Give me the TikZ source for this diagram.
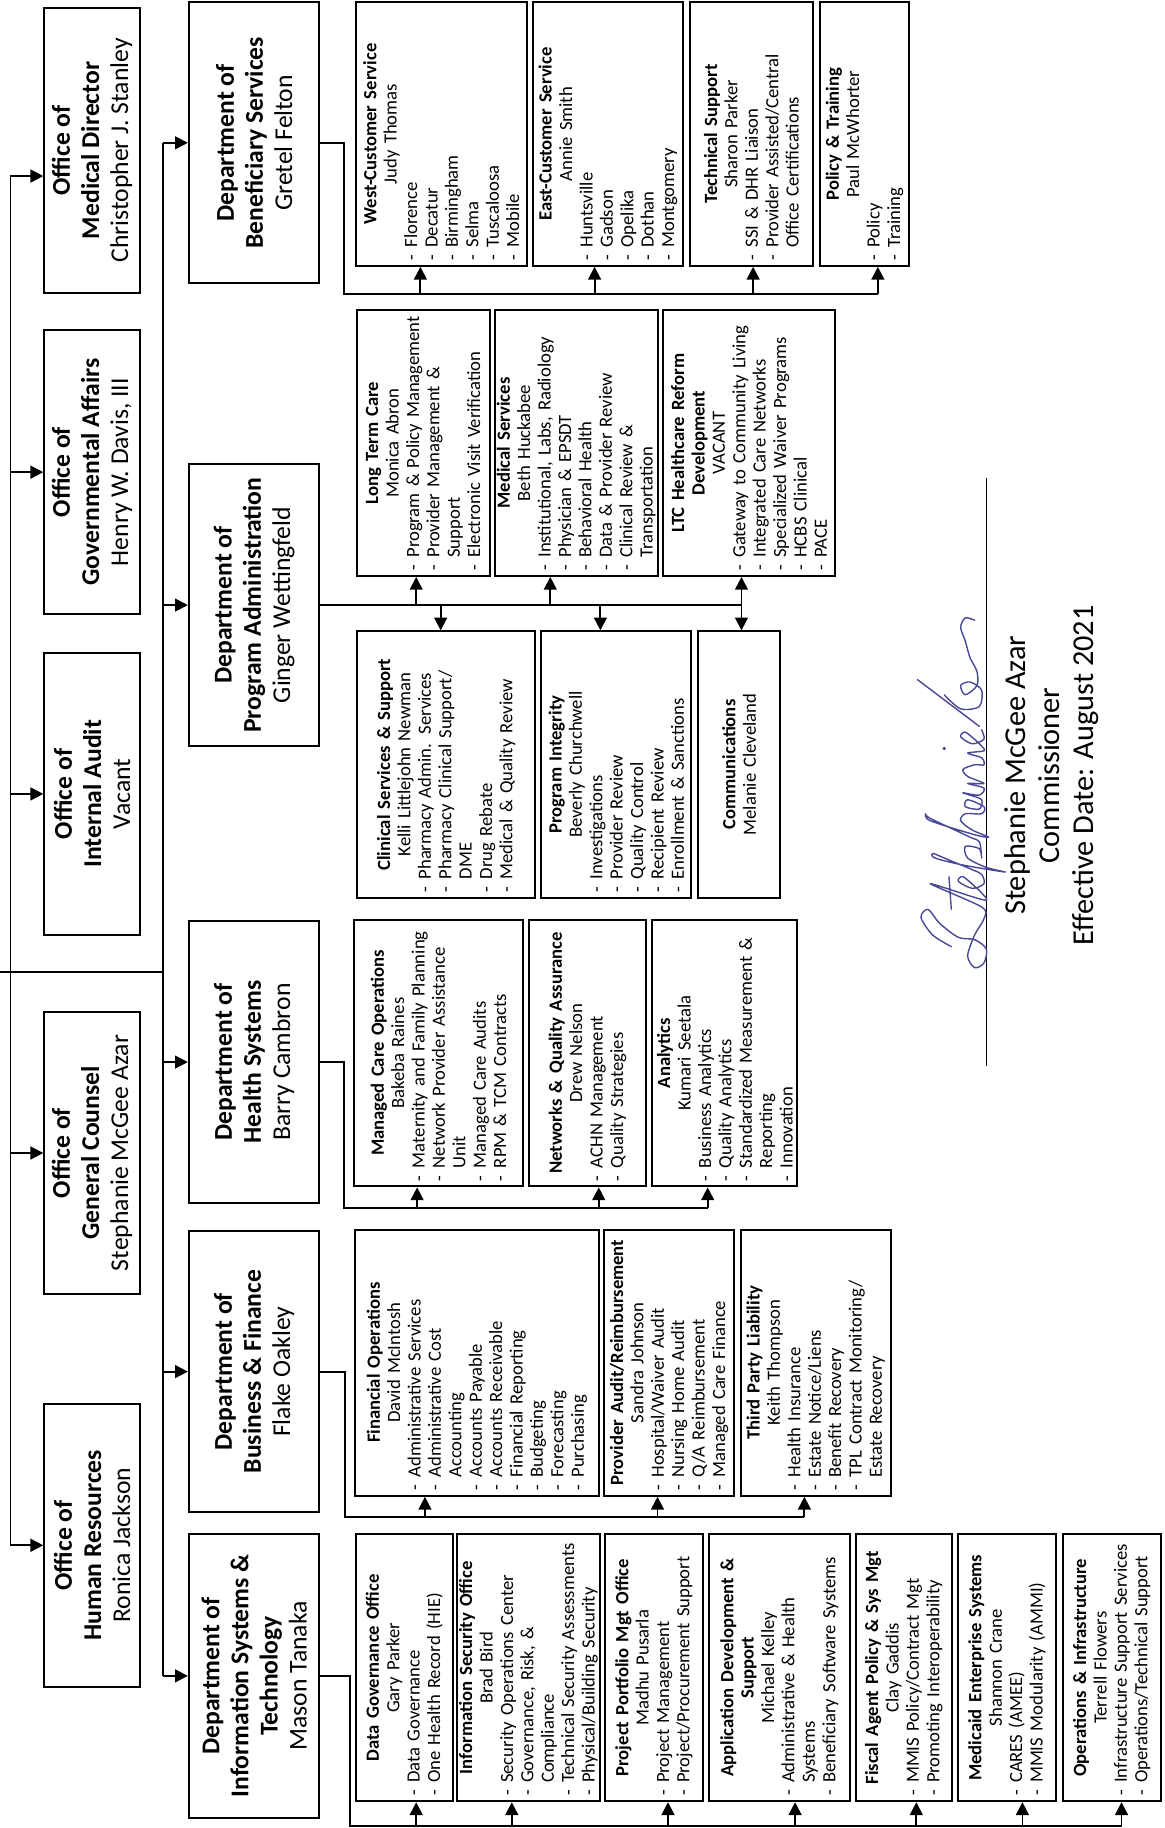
\documentclass[tikz,border=0pt]{standalone}
\usepackage{fontspec}
\setmainfont{Carlito}
\usetikzlibrary{arrows.meta,calc}
\setlength\parskip{0pt}
\setlength\parindent{0pt}
\definecolor{sigc}{RGB}{72,72,150}
\newcommand\ttl[1]{\noindent\makebox[\hsize]{\bfseries #1}\par}
\newcommand\nm[1]{\noindent\makebox[\hsize]{#1}\par}
\newcommand\itm[1]{\noindent\mbox{\makebox[0.7em][l]{-}#1}\par}
\newcommand\cnt[1]{\noindent\mbox{\hspace*{0.7em}#1}\par}
\tikzset{
 ln/.style={line width=1.6pt},
 arr/.style={line width=1.6pt,-{Triangle[length=11pt,width=11pt]}},
 bx/.style={draw,line width=1.7pt,inner sep=0pt},
 otxt/.style={rotate=90,align=center,inner sep=0pt,font=\fontsize{22}{25}\selectfont},
 stxt/.style={rotate=90,inner sep=0pt,font=\fontsize{16}{17.5}\selectfont},
 sig/.style={line width=1.2pt,color=sigc,line cap=round,line join=round}
}
\newcommand\obox[6]{%
 \pgfmathsetmacro\bw{#4-#2}\pgfmathsetmacro\bh{#5-#3}%
 \node[bx,minimum width=\bw pt,minimum height=\bh pt] (#1) at ({(#2+#4)/2},{(#3+#5)/2}) {};
 \node[otxt] (#1t) at (#1.center) {#6};}
\newcommand\subbx[6]{%
 \pgfmathsetmacro\bw{#4-#2}\pgfmathsetmacro\bh{#5-#3}\pgfmathsetmacro\tw{#5-#3-9}%
 \node[bx,minimum width=\bw pt,minimum height=\bh pt] (#1) at ({(#2+#4)/2},{(#3+#5)/2}) {};
 \node[stxt,text width=\tw pt] (#1t) at (#1.center) {#6};}
\begin{document}
\begin{tikzpicture}[x=1pt,y=-1pt]
\useasboundingbox (0,0) rectangle (999,1568);
% ---------- offices ----------
\obox{oMed}{38}{7}{120}{251}{\textbf{Office of}\\\textbf{Medical Director}\\Christopher J. Stanley}
\obox{oGov}{38}{283}{120}{527}{\textbf{Office of}\\\textbf{Governmental Affairs}\\Henry W. Davis, III}
\obox{oAud}{38}{560}{120}{802}{\textbf{Office of}\\\textbf{Internal Audit}\\Vacant}
\obox{oGC}{38}{868}{120}{1110}{\textbf{Office of}\\\textbf{General Counsel}\\Stephanie McGee Azar}
\obox{oHR}{38}{1204}{120}{1447}{\textbf{Office of}\\\textbf{Human Resources}\\Ronica Jackson}
% ---------- departments ----------
\obox{dBen}{162}{2}{274}{243}{\textbf{Department of}\\\textbf{Beneficiary Services}\\Gretel Felton}
\obox{dPA}{162}{398}{274}{640}{\textbf{Department of}\\\textbf{Program Administration}\\Ginger Wettingfeld}
\obox{dHS}{162}{790}{274}{1032}{\textbf{Department of}\\\textbf{Health Systems}\\Barry Cambron}
\obox{dBF}{162}{1056}{274}{1297}{\textbf{Department of}\\\textbf{Business \& Finance}\\Flake Oakley}
\obox{dIST}{162}{1316}{274}{1559}{\textbf{Department of}\\\textbf{Information Systems \&}\\\textbf{Technology}\\Mason Tanaka}
% ---------- trunk ----------
\coordinate (lt) at (9,151);
\coordinate (lb) at (9,1326);
\coordinate (c0) at (0,834);
\coordinate (dt) at (140,122.5);
\coordinate (db) at (140,1437.5);
\draw[ln] (lt) -- (lb);
\draw[ln] (c0) -- (c0 -| dt);
\draw[ln] (dt) -- (db);
\coordinate (aMed) at (oMed.west |- 0,151);
\draw[arr] (lt) -- (aMed);
\foreach \n in {oGov,oAud,oGC,oHR} \draw[arr] (\n.west -| lt) -- (\n.west);
\foreach \n in {dBen,dPA,dHS,dBF,dIST} \draw[arr] (\n.west -| dt) -- (\n.west);
% ---------- Beneficiary sub-boxes ----------
\subbx{sWest}{305}{2}{452}{228}{\ttl{West-Customer Service}\nm{Judy Thomas}\itm{Florence}\itm{Decatur}\itm{Birmingham}\itm{Selma}\itm{Tuscaloosa}\itm{Mobile}}
\subbx{sEast}{457}{2}{586}{228}{\ttl{East-Customer Service}\nm{Annie Smith}\itm{Huntsville}\itm{Gadson}\itm{Opelika}\itm{Dothan}\itm{Montgomery}}
\subbx{sTech}{592}{2}{697}{228}{\ttl{Technical Support}\nm{Sharon Parker}\itm{SSI \& DHR Liaison}\itm{Provider Assisted/Central}\cnt{Office Certifications}}
\subbx{sPol}{703}{2}{780}{228}{\ttl{Policy \& Training}\nm{Paul McWhorter}\itm{Policy}\itm{Training}}
\coordinate (jBen) at (753,252);
\draw[ln] (dBen.east) -- ++(20.5,0) |- (jBen);
\foreach \xx/\n in {360.6/sWest,510/sEast,646/sTech,753/sPol} \draw[arr] (\xx,252) -- (\n.south -| \xx,0);
% ---------- Program Administration ----------
\subbx{pLTC}{306}{266}{420}{494}{\ttl{Long Term Care}\nm{Monica Abron}\itm{Program \& Policy Management}\itm{Provider Management \&}\cnt{Support}\itm{Electronic Visit Verification}}
\subbx{pMed}{424.5}{266}{564}{494}{\ttl{Medical Services}\nm{Beth Huckabee}\itm{Institutional, Labs, Radiology}\itm{Physician \& EPSDT}\itm{Behavioral Health}\itm{Data \& Provider Review}\itm{Clinical Review \&}\cnt{Transportation}}
\subbx{pRef}{569}{266}{716}{494}{\ttl{LTC Healthcare Reform}\ttl{Development}\nm{VACANT}\itm{Gateway to Community Living}\itm{Integrated Care Networks}\itm{Specialized Waiver Programs}\itm{HCBS Clinical}\itm{PACE}}
\subbx{pCli}{306.5}{541.6}{459}{770}{\ttl{Clinical Services \& Support}\nm{Kelli Littlejohn Newman}\itm{Pharmacy Admin. Services}\itm{Pharmacy Clinical Support/}\cnt{DME}\itm{Drug Rebate}\itm{Medical \& Quality Review}}
\subbx{pInt}{464.4}{541.6}{592.8}{770}{\ttl{Program Integrity}\nm{Beverly Churchwell}\itm{Investigations}\itm{Provider Review}\itm{Quality Control}\itm{Recipient Review}\itm{Enrollment \& Sanctions}}
\subbx{pCom}{599}{541.6}{669}{770}{\ttl{Communications}\nm{Melanie Cleveland}}
\coordinate (jPA) at (636,0);
\draw[ln] (dPA.east) -- (dPA.east -| jPA);
\foreach \xx/\n in {357/pLTC,472/pMed,636/pRef} \draw[arr] (dPA.east -| \xx,0) -- (\n.south -| \xx,0);
\foreach \xx/\n in {378/pCli,515/pInt,636/pCom} \draw[arr] (dPA.east -| \xx,0) -- (\n.north -| \xx,0);
% ---------- Health Systems ----------
\subbx{hMC}{303.6}{789}{448.6}{1017.6}{\ttl{Managed Care Operations}\nm{Bakeba Raines}\itm{Maternity and Family Planning}\itm{Network Provider Assistance}\cnt{Unit}\itm{Managed Care Audits}\itm{RPM \& TCM Contracts}}
\subbx{hNet}{453.8}{789}{554}{1017.6}{\ttl{Networks \& Quality Assurance}\nm{Drew Nelson}\itm{ACHN Management}\itm{Quality Strategies}}
\subbx{hAn}{559.6}{789}{684}{1017.6}{\ttl{Analytics}\nm{Kumari Seetala}\itm{Business Analytics}\itm{Quality Analytics}\itm{Standardized Measurement \&}\cnt{Reporting}\itm{Innovation}}
\coordinate (jHS) at (607,1036);
\draw[ln] (dHS.east) -- ++(20,0) |- (jHS);
\foreach \xx/\n in {357.8/hMC,513.6/hNet,607/hAn} \draw[arr] (\xx,1036) -- (\n.south -| \xx,0);
% ---------- Business & Finance ----------
\subbx{fFin}{304.4}{1054.7}{513.6}{1283}{\ttl{Financial Operations}\nm{David McIntosh}\itm{Administrative Services}\itm{Administrative Cost}\cnt{Accounting}\itm{Accounts Payable}\itm{Accounts Receivable}\itm{Financial Reporting}\itm{Budgeting}\itm{Forecasting}\itm{Purchasing}}
\subbx{fAud}{517.8}{1054.7}{630}{1283}{\ttl{Provider Audit/Reimbursement}\nm{Sandra Johnson}\itm{Hospital/Waiver Audit}\itm{Nursing Home Audit}\itm{Q/A Reimbursement}\itm{Managed Care Finance}}
\subbx{fTPL}{635.4}{1054.7}{764}{1283}{\ttl{Third Party Liability}\nm{Keith Thompson}\itm{Health Insurance}\itm{Estate Notice/Liens}\itm{Benefit Recovery}\itm{TPL Contract Monitoring/}\cnt{Estate Recovery}}
\coordinate (jBF) at (690,1301);
\draw[ln] (dBF.east) -- ++(21,0) |- (jBF);
\foreach \xx/\n in {364.5/fFin,564/fAud,690/fTPL} \draw[arr] (\xx,1301) -- (\n.south -| \xx,0);
% ---------- IST ----------
\subbx{iDG}{305}{1316}{388.5}{1545}{\ttl{Data Governance Office}\nm{Gary Parker}\itm{Data Governance}\itm{One Health Record (HIE)}}
\subbx{iSec}{392}{1316}{514.6}{1545}{\ttl{Information Security Office}\nm{Brad Bird}\itm{Security Operations Center}\itm{Governance, Risk, \&}\cnt{Compliance}\itm{Technical Security Assessments}\itm{Physical/Building Security}}
\subbx{iPP}{519}{1316}{602.8}{1545}{\ttl{Project Portfolio Mgt Office}\nm{Madhu Pusarla}\itm{Project Management}\itm{Project/Procurement Support}}
\subbx{iApp}{607.8}{1316}{729}{1545}{\ttl{Application Development \&}\ttl{Support}\nm{Michael Kelley}\itm{Administrative \& Health}\cnt{Systems}\itm{Beneficiary Software Systems}}
\subbx{iFis}{734}{1316}{816.5}{1545}{\ttl{Fiscal Agent Policy \& Sys Mgt}\nm{Clay Gaddis}\itm{MMIS Policy/Contract Mgt}\itm{Promoting Interoperability}}
\subbx{iMES}{822}{1316}{905.5}{1545}{\ttl{Medicaid Enterprise Systems}\nm{Shannon Crane}\itm{CARES (AMEE)}\itm{MMIS Modularity (AMMI)}}
\subbx{iOps}{911.5}{1316}{995.7}{1545}{\ttl{Operations \& Infrastructure}\nm{Terrell Flowers}\itm{Infrastructure Support Services}\itm{Operations/Technical Support}}
\coordinate (jIST) at (962,1566);
\draw[ln] (dIST.east) -- ++(25,0) |- (jIST);
\foreach \xx/\n in {357/iDG,439/iSec,573/iPP,682/iApp,786/iFis,877/iMES,962/iOps} \draw[arr] (\xx,1566) -- (\n.south -| \xx,0);
% ---------- signature ----------
\coordinate (sgT) at (846,410);
\coordinate (sgB) at (846,914);
\draw[line width=1.3pt] (sgT) -- (sgB);
\node[rotate=90,align=center,inner sep=0pt,font=\fontsize{26}{29}\selectfont] (sgtxt) at (902,665) {Stephanie McGee Azar\\Commissioner\\Effective Date: August 2021};
\begin{scope}[shift={(846,832)}]
\draw[sig] plot[smooth,tension=0.5] coordinates {(-30,-20) (-46,-30) (-56,-45) (-50,-52) (-40,-40) (-24,-28) (-10,-26) (0,-18) (-2,-6) (-10,-2) (-16,-12) (-10,-30) (-2,-44)
 (-4,-54) (-48,-74) (-2,-60) (-4,-66)
 (-8,-70) (-20,-80) (-24,-76) (-12,-70) (-2,-74) (-4,-82)
 (-12,-86) (-36,-96) (-46,-100) (-44,-96) (-20,-90) (16,-84) (0,-88) (-16,-96) (-18,-106) (-6,-104) (-4,-96) (-6,-110)
 (-14,-114) (-48,-130) (-52,-134) (-48,-128) (-10,-116) (2,-114) (-12,-120) (-22,-128) (-18,-134) (-4,-134) (-2,-140)
 (-16,-146) (-18,-140) (-6,-138) (-4,-146) (-14,-150) (-20,-152) (-6,-150) (-2,-156)
 (-16,-160) (-2,-160) (-16,-166) (-20,-172) (-10,-176) (-2,-176) (-4,-182)
 (-16,-186) (-2,-188) (-4,-192)
 (-8,-196) (-18,-204) (-22,-200) (-12,-194) (-2,-198) (-4,-206)};
\draw[sig] (-30,-52) -- (-32,-80);
\fill[sigc] (-36,-190) circle (1.6);
\draw[sig] (-6,-209) -- (-59,-249);
\draw[sig] plot[smooth,tension=0.5] coordinates {(-36,-236) (-22,-224) (-6,-226) (-4,-240) (-14,-247) (-22,-244) (-18,-236) (-8,-244) (-8,-256) (-14,-268) (-18,-282) (-22,-294) (-18,-302) (-10,-300)};
\end{scope}
\end{tikzpicture}
\end{document}
